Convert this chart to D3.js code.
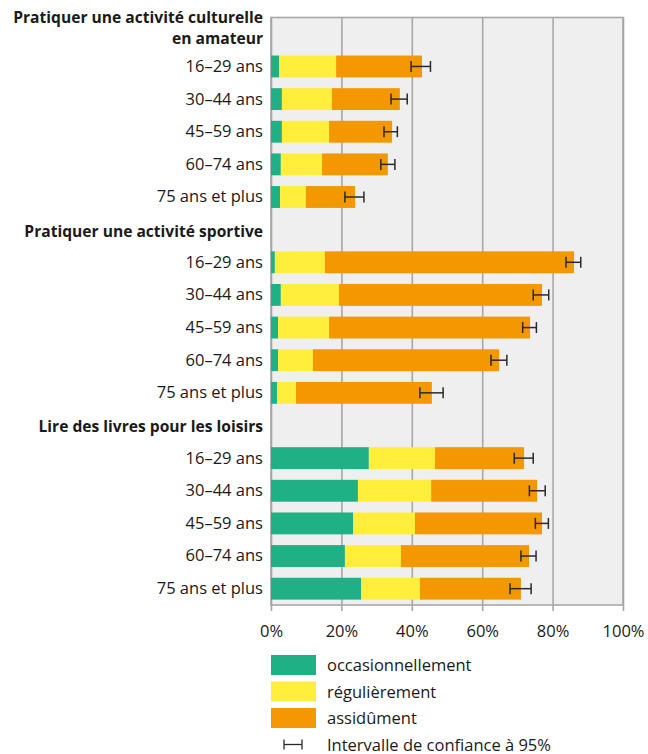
<!DOCTYPE html>
<html lang="fr">
<head>
<meta charset="utf-8">
<script src="https://cdn.jsdelivr.net/npm/d3@7"></script>
<style>
  html, body { margin: 0; padding: 0; background: #fff; }
  svg { display: block; font-family: "Open Sans", "Noto Sans", sans-serif; }
</style>
</head>
<body>
<svg id="chart" width="648" height="754"></svg>
<script>
// Group headings (line breaks mark wrapped headings) and age bands
const groupTitles = [
  ["Pratiquer une activité culturelle", "en amateur"],
  ["Pratiquer une activité sportive"],
  ["Lire des livres pour les loisirs"]
];
const ageBands = ["16–29 ans", "30–44 ans", "45–59 ans", "60–74 ans", "75 ans et plus"];

// Shares (%) per group, one value per age band
const occasionnellement = [
  [2.3, 3.1, 3.1, 2.8, 2.6],
  [1.1, 2.8, 2.0, 2.0, 1.7],
  [27.8, 24.7, 23.3, 21.0, 25.6]
];
const regulierement = [
  [16.2, 14.2, 13.4, 11.7, 7.3],
  [14.2, 16.5, 14.5, 9.9, 5.4],
  [18.8, 20.8, 17.6, 15.9, 16.7]
];
const assidument = [
  [24.4, 19.3, 17.9, 18.7, 14.0],
  [70.8, 57.7, 57.1, 52.9, 38.6],
  [25.3, 30.1, 36.1, 36.4, 28.7]
];

// 95% confidence interval bounds of the total
const ciLow = [
  [39.8, 34.1, 32.1, 31.2, 21.0],
  [83.8, 74.5, 71.5, 62.5, 42.3],
  [69.1, 73.4, 75.1, 71.0, 67.9]
];
const ciHigh = [
  [45.3, 38.7, 35.9, 35.2, 26.4],
  [88.0, 78.9, 75.4, 67.0, 48.9],
  [74.5, 77.9, 78.8, 75.3, 73.9]
];

const seriesKeys = ["occasionnellement", "régulièrement", "assidûment"];
const seriesColors = ["#20b086", "#ffee3b", "#f39800"];
const xTicks = [0, 20, 40, 60, 80, 100];

// ---- Build the row list: a heading slot followed by the age-band rows
const slots = [];
const rows = [];
groupTitles.forEach((title, g) => {
  slots.push({ id: "h" + g, type: "head", title });
  ageBands.forEach((age, i) => {
    const row = {
      id: "r" + g + "-" + i, type: "row", label: age,
      "occasionnellement": occasionnellement[g][i],
      "régulièrement": regulierement[g][i],
      "assidûment": assidument[g][i],
      lo: ciLow[g][i], hi: ciHigh[g][i]
    };
    slots.push(row);
    rows.push(row);
  });
});

const svg = d3.select("#chart");
const plot = { left: 271, right: 623, top: 17.5, bottom: 605 };

const x = d3.scaleLinear().domain([0, 100]).range([plot.left, plot.right]);
const y = d3.scaleBand()
  .domain(slots.map(d => d.id))
  .range([plot.top, plot.bottom])
  .paddingInner(0.33)
  .paddingOuter(0.165);
const color = d3.scaleOrdinal().domain(seriesKeys).range(seriesColors);

const gridColor = "#a7a7a7";
const textColor = "#1a1a1a";

// Plot background
svg.append("rect")
  .attr("x", plot.left).attr("y", plot.top)
  .attr("width", plot.right - plot.left).attr("height", plot.bottom - plot.top)
  .attr("fill", "#efefef");

// Vertical gridlines + tick marks via the axis generator
const xAxis = d3.axisBottom(x)
  .tickValues(xTicks)
  .tickFormat(d => d + "%")
  .tickSizeInner(-(plot.bottom - plot.top) - 6)
  .tickSizeOuter(0)
  .tickPadding(14);
const axisG = svg.append("g")
  .attr("transform", `translate(0,${plot.bottom + 6})`)
  .call(xAxis);
axisG.select(".domain").remove();
axisG.selectAll(".tick line")
  .attr("stroke", gridColor).attr("stroke-width", 1.6);
axisG.selectAll(".tick text")
  .attr("fill", textColor)
  .attr("font-size", 16.5)
  .attr("font-family", "'Open Sans', sans-serif");

// Plot frame
svg.append("rect")
  .attr("x", plot.left).attr("y", plot.top)
  .attr("width", plot.right - plot.left).attr("height", plot.bottom - plot.top)
  .attr("fill", "none").attr("stroke", gridColor).attr("stroke-width", 1.6);

// Stacked bars
const stacked = d3.stack().keys(seriesKeys)(rows);
svg.append("g")
  .selectAll("g")
  .data(stacked)
  .join("g")
  .attr("fill", d => color(d.key))
  .selectAll("rect")
  .data(d => d)
  .join("rect")
  .attr("x", d => x(d[0]))
  .attr("width", d => x(d[1]) - x(d[0]))
  .attr("y", d => y(d.data.id))
  .attr("height", y.bandwidth());

// Confidence interval whiskers
const ciG = svg.append("g")
  .attr("stroke", "#2a2a2a").attr("stroke-width", 1.5).attr("fill", "none");
rows.forEach(r => {
  const cy = y(r.id) + y.bandwidth() / 2;
  ciG.append("line").attr("x1", x(r.lo)).attr("x2", x(r.hi)).attr("y1", cy).attr("y2", cy);
  ciG.append("line").attr("x1", x(r.lo)).attr("x2", x(r.lo)).attr("y1", cy - 5.5).attr("y2", cy + 5.5);
  ciG.append("line").attr("x1", x(r.hi)).attr("x2", x(r.hi)).attr("y1", cy - 5.5).attr("y2", cy + 5.5);
});

// Row labels
const labelX = plot.left - 8;
svg.append("g")
  .selectAll("text")
  .data(rows)
  .join("text")
  .attr("x", labelX)
  .attr("y", d => y(d.id) + y.bandwidth() / 2)
  .attr("dy", "0.33em")
  .attr("text-anchor", "end")
  .attr("font-size", 16.5)
  .attr("fill", textColor)
  .text(d => d.label);

// Group headings (each line is its own text element)
const heads = slots.filter(d => d.type === "head");
heads.forEach(h => {
  const cy = y(h.id) + y.bandwidth() / 2;
  const lines = h.title;
  const lineH = 21;
  const firstBaseline = lines.length > 1 ? cy - 10.5 : cy + 7;
  lines.forEach((ln, i) => {
    svg.append("text")
      .attr("x", labelX)
      .attr("y", firstBaseline + i * lineH)
      .attr("text-anchor", "end")
      .attr("font-size", 15.6)
      .attr("font-weight", "bold")
      .attr("fill", textColor)
      .text(ln);
  });
});

// Legend
const legend = svg.append("g");
const legX = 271, legY = 655, legStep = 26.5;
seriesKeys.forEach((k, i) => {
  legend.append("rect")
    .attr("x", legX).attr("y", legY + i * legStep)
    .attr("width", 45).attr("height", 20)
    .attr("fill", color(k));
  legend.append("text")
    .attr("x", 327).attr("y", legY + i * legStep + 16)
    .attr("font-size", 16.5).attr("fill", textColor)
    .text(k);
});
const ciY = legY + 3 * legStep + 10;
const ciLeg = legend.append("g").attr("stroke", "#2a2a2a").attr("stroke-width", 1.3);
ciLeg.append("line").attr("x1", 284).attr("x2", 302).attr("y1", ciY).attr("y2", ciY);
ciLeg.append("line").attr("x1", 284).attr("x2", 284).attr("y1", ciY - 5).attr("y2", ciY + 5);
ciLeg.append("line").attr("x1", 302).attr("x2", 302).attr("y1", ciY - 5).attr("y2", ciY + 5);
legend.append("text")
  .attr("x", 327).attr("y", ciY + 6)
  .attr("font-size", 16.5).attr("fill", textColor)
  .text("Intervalle de confiance à 95%");
</script>
</body>
</html>
